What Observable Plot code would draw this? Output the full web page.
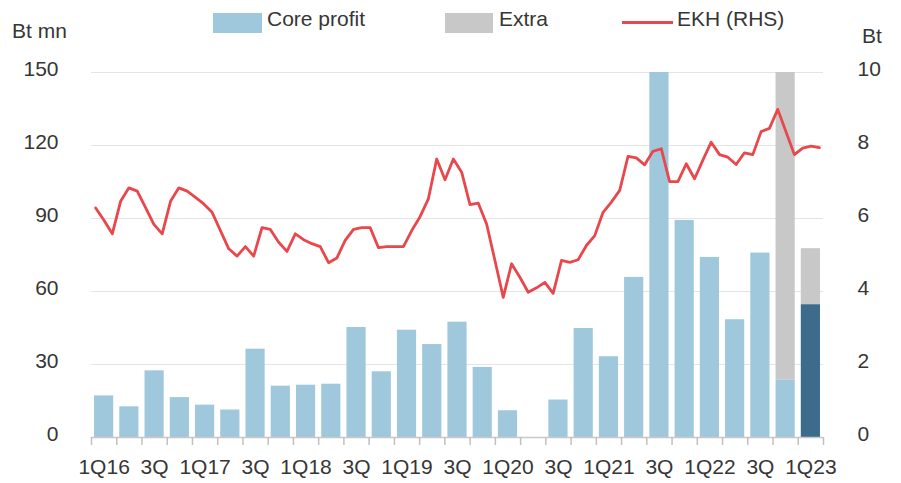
<!DOCTYPE html>
<html>
<head>
<meta charset="utf-8">
<script src="https://cdn.jsdelivr.net/npm/d3@7"></script>
<script src="https://cdn.jsdelivr.net/npm/@observablehq/plot@0.6"></script>
<style>
  body { margin: 0; background: #fff; font-family: "Liberation Sans", Arial, Helvetica, sans-serif; color: #363636; }
  #wrap { position: relative; width: 901px; height: 483px; }
  .abs { position: absolute; font-size: 21px; line-height: 21px; white-space: nowrap; }
  .sw { position: absolute; }
</style>
</head>
<body>
<div id="wrap">
  <div id="chart"></div>
  <div class="sw" style="left:213px;top:13px;width:49px;height:20px;background:#a0c8dc"></div>
  <div class="abs" style="left:267px;top:8px">Core profit</div>
  <div class="sw" style="left:445px;top:13px;width:48px;height:20px;background:#c8c8c8"></div>
  <div class="abs" style="left:499px;top:8px">Extra</div>
  <div class="sw" style="left:622px;top:21px;width:51px;height:3px;background:#e8474c"></div>
  <div class="abs" style="left:677px;top:8px">EKH (RHS)</div>
  <div class="abs" style="left:12px;top:20px">Bt mn</div>
  <div class="abs" style="left:862px;top:25px">Bt</div>
</div>
<script>
// Quarters 1Q16 .. 1Q23
const quarters = ["1Q16","2Q16","3Q16","4Q16","1Q17","2Q17","3Q17","4Q17","1Q18","2Q18","3Q18","4Q18",
  "1Q19","2Q19","3Q19","4Q19","1Q20","2Q20","3Q20","4Q20","1Q21","2Q21","3Q21","4Q21",
  "1Q22","2Q22","3Q22","4Q22","1Q23"];
// Core profit (Bt mn)
const coreProfit = [17.1,12.6,27.4,16.4,13.3,11.3,36.3,21.1,21.5,21.9,45.2,27.0,
  44.1,38.2,47.4,28.8,11.0,0,15.4,44.8,33.2,65.8,150,89.2,
  74.0,48.4,75.8,23.7,54.6];
// Extra items (Bt mn)
const extraProfit = [0,0,0,0,0,0,0,0,0,0,0,0,
  0,0,0,0,0,0,0,0,0,0,0,0,
  0,0,0,126.3,23.0];
// Highlighted (latest) quarter
const latestQuarter = "1Q23";
// EKH share price (Bt), evenly spaced observations 2016 - 1Q23
const ekhPrice = [6.29,5.95,5.58,6.47,6.84,6.75,6.30,5.84,5.58,6.47,6.84,6.75,
  6.58,6.40,6.17,5.67,5.17,4.97,5.23,4.97,5.75,5.70,5.35,5.10,
  5.58,5.42,5.31,5.23,4.79,4.92,5.40,5.70,5.75,5.75,5.20,5.23,
  5.23,5.23,5.67,6.05,6.54,7.63,7.06,7.63,7.27,6.38,6.42,5.85,
  4.85,3.84,4.76,4.39,3.98,4.10,4.25,3.95,4.85,4.80,4.87,5.26,
  5.53,6.17,6.45,6.77,7.70,7.66,7.47,7.84,7.91,7.01,7.01,7.50,
  7.09,7.60,8.09,7.75,7.68,7.48,7.80,7.75,8.38,8.47,8.99,8.37,
  7.75,7.93,7.98,7.94];
// Axis ticks
const leftTicks = [0,30,60,90,120,150];
const rightTicks = [0,2,4,6,8,10];
const xTickLabels = ["1Q16","3Q","1Q17","3Q","1Q18","3Q","1Q19","3Q","1Q20","3Q","1Q21","3Q","1Q22","3Q","1Q23"];

const ratio = 150 / 10; // RHS -> LHS scale
const nQ = quarters.length;
const bars = quarters.map((q, i) => ({q, i, core: coreProfit[i], extra: extraProfit[i]}));
const extras = bars.filter(d => d.extra > 0);
const nP = ekhPrice.length;
const line = ekhPrice.map((v, k) => ({t: -0.5 + (k + 0.5) * nQ / nP, v}));

const half = 0.38;
const textColor = "#363636";

const chart = Plot.plot({
  width: 901,
  height: 483,
  marginLeft: 91,
  marginRight: 78,
  marginTop: 72,
  marginBottom: 46,
  x: {type: "linear", domain: [-0.5, nQ - 0.5]},
  y: {domain: [0, 150]},
  style: {fontFamily: '"Liberation Sans", Arial, Helvetica, sans-serif', fontSize: "21px", color: textColor, background: "transparent", overflow: "visible"},
  marks: [
    Plot.gridY(leftTicks.filter(d => d > 0), {stroke: "#e4e4e4", strokeOpacity: 1, strokeWidth: 1}),
    Plot.rect(bars, {x1: d => d.i - half, x2: d => d.i + half, y1: 0, y2: "core",
      fill: d => d.q === latestQuarter ? "#3d6b8b" : "#a0c8dc", clip: true}),
    Plot.rect(extras, {x1: d => d.i - half, x2: d => d.i + half, y1: "core", y2: d => d.core + d.extra,
      fill: "#c8c8c8", clip: true}),
    Plot.ruleY([0], {stroke: "#c8c8c8", strokeWidth: 1.5}),
    Plot.axisX(d3.range(-0.5, nQ, 1), {anchor: "bottom", tickSize: 8, tickFormat: () => "", stroke: "#c0c0c0", strokeWidth: 1.5, label: null}),
    Plot.axisX(d3.range(0, nQ, 2), {anchor: "bottom", tickSize: 0, tickPadding: 22, tickFormat: i => xTickLabels[i / 2], label: null, fontSize: 21, fill: textColor}),
    Plot.line(line, {x: "t", y: d => d.v * ratio, stroke: "#e8474c", strokeWidth: 2.8, strokeLinejoin: "round"}),
    Plot.axisY(leftTicks, {anchor: "left", tickSize: 0, tickPadding: 33, label: null, dy: -3, fontSize: 21, fill: textColor}),
    Plot.axisY(rightTicks.map(d => d * ratio), {anchor: "right", tickSize: 0, tickPadding: 34, tickFormat: d => d / ratio, label: null, dy: -3, fontSize: 21, fill: textColor})
  ]
});
document.getElementById("chart").appendChild(chart);
</script>
</body>
</html>
